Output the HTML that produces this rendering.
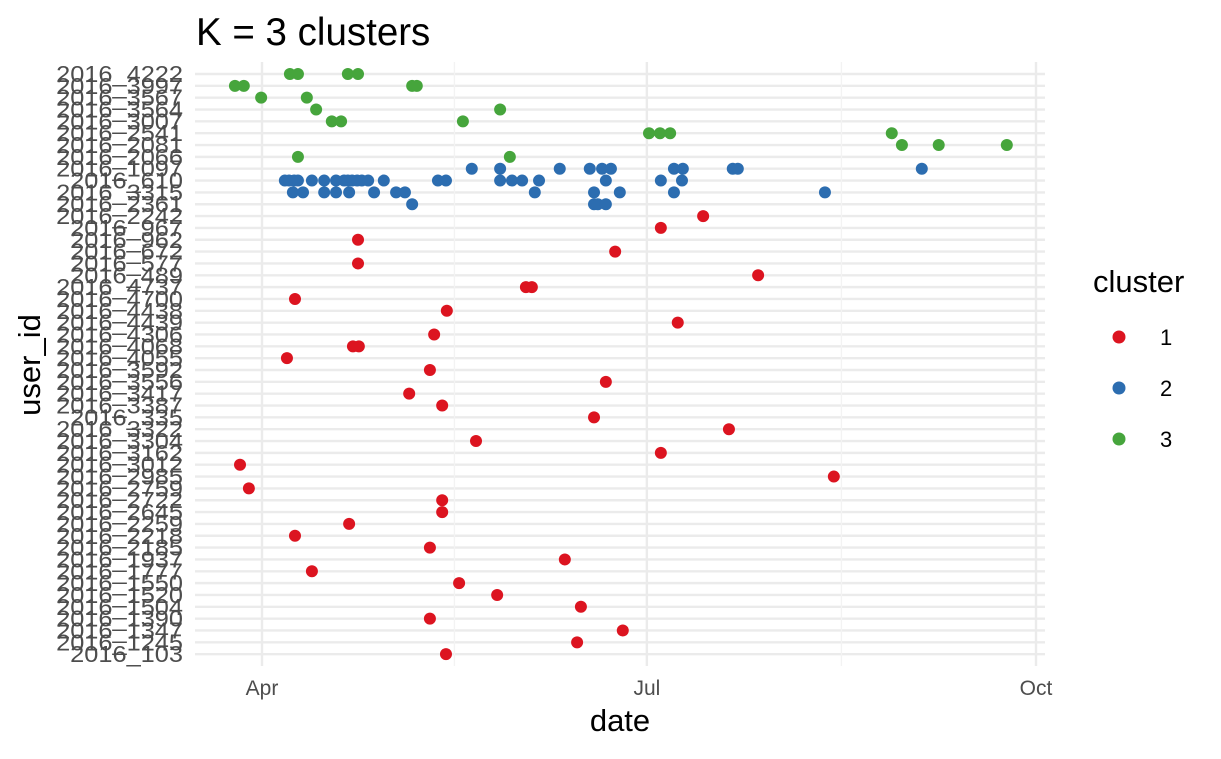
<!DOCTYPE html>
<html><head><meta charset="utf-8"><style>
body{margin:0;background:#fff;}
svg text{font-family:"Liberation Sans",Arial,sans-serif;}
</style></head><body>
<svg id="chart" width="1221" height="754" xmlns="http://www.w3.org/2000/svg">
<text x="196" y="45" font-size="38.5" fill="#000">K = 3 clusters</text>
<g id="grid"></g><g id="ylabels"></g><g id="xlabels"></g><g id="points"></g>
<text x="620" y="731" font-size="31" text-anchor="middle" fill="#000">date</text>
<text transform="translate(40,365) rotate(-90)" font-size="31" text-anchor="middle" fill="#000">user_id</text>
<g>
<text x="1093" y="292" font-size="31" fill="#000">cluster</text>
<g id="legend"></g>
</g>
</svg>
<script>
const userIds=["2016_4222","2016_3997","2016_3567","2016_3564","2016_3007","2016_2541","2016_2081","2016_2066","2016_1097","2016_610","2016_3315","2016_2361","2016_2242","2016_967","2016_962","2016_672","2016_577","2016_489","2016_4737","2016_4700","2016_4438","2016_4439","2016_4306","2016_4068","2016_4055","2016_3592","2016_3556","2016_3417","2016_3387","2016_335","2016_3322","2016_3304","2016_3162","2016_3012","2016_2985","2016_2759","2016_2722","2016_2645","2016_2259","2016_2218","2016_2185","2016_1937","2016_1777","2016_1550","2016_1520","2016_1504","2016_1390","2016_1347","2016_1245","2016_103"];
const rowCluster=[3,3,3,3,3,3,3,3,2,2,2,2,1,1,1,1,1,1,1,1,1,1,1,1,1,1,1,1,1,1,1,1,1,1,1,1,1,1,1,1,1,1,1,1,1,1,1,1,1,1];
// days since 2016-04-01
const rowDays=[
[6.6,8.5,20.3,22.7],[-6.4,-4.3,35.5,36.6],[-0.2,10.6],[12.8,56.3],[16.5,18.7,47.5],[91.5,94.1,96.5,148.9],[151.3,160.0,176.1],[8.5,58.6],
[49.6,56.3,70.4,77.5,80.4,82.5,97.4,99.5,111.3,112.5,156.0],
[5.4,6.4,7.6,8.5,11.8,14.7,17.5,19.4,20.3,21.3,22.5,23.6,25.1,28.8,41.6,43.5,56.3,59.1,61.5,65.5,81.3,94.3,99.3],
[7.3,9.7,14.7,17.5,20.6,26.5,31.7,33.8,64.5,78.5,84.6,97.4,133.1],
[35.5,78.5,79.4,81.3],
[104.3],[94.3],[22.7],[83.5],[22.7],[117.3],[62.4,63.8],[7.8],[43.7],[98.3],[40.7],[21.5,22.9],[5.9],[39.7],[81.3],[34.8],[42.6],[78.5],[110.4],[50.6],[94.3],[-5.2],[135.2],[-3.1],[42.6],[42.6],[20.6],[7.8],[39.7],[71.6],[11.8],[46.6],[55.6],[75.4],[39.7],[85.3],[74.5],[43.5]];
const xTickLabels=["Apr","Jul","Oct"];
const xTickDays=[0,91,183];
const xMinorDays=[45.5,137];
const clusterLabels=["1","2","3"];
const colors={1:"#DC1420",2:"#2C6DB0",3:"#46A53C"};
const NS="http://www.w3.org/2000/svg";
const xS=d=>262+d*(774/183);
const yS=i=>74+i*11.84;
function mk(t,a,p){const e=document.createElementNS(NS,t);for(const k in a)e.setAttribute(k,a[k]);p.appendChild(e);return e;}
const grid=document.getElementById('grid');
userIds.forEach((u,i)=>{const l=mk('line',{x1:195,x2:1045,y1:yS(i),y2:yS(i),stroke:'#ebebeb','stroke-width':2.4},grid);

});
xMinorDays.forEach(d=>{const l=mk('line',{x1:xS(d),x2:xS(d),y1:62,y2:666,stroke:'#f3f3f3','stroke-width':1.3},grid);

});
xTickDays.forEach(d=>{const l=mk('line',{x1:xS(d),x2:xS(d),y1:62,y2:666,stroke:'#ebebeb','stroke-width':2.4},grid);

});
const yl=document.getElementById('ylabels');
userIds.forEach((u,i)=>{const t=mk('text',{x:183,y:yS(i)+8,'font-size':23,'text-anchor':'end',fill:'#4d4d4d',textLength:(u.length*14.1).toFixed(1),lengthAdjust:'spacingAndGlyphs'},yl);t.textContent=u;

});
const xl=document.getElementById('xlabels');
xTickDays.forEach((d,i)=>{const t=mk('text',{x:xS(d),y:695,'font-size':21,'text-anchor':'middle',fill:'#4d4d4d'},xl);t.textContent=xTickLabels[i];

});
const pg=document.getElementById('points');
rowDays.forEach((days,i)=>days.forEach(d=>{const c=mk('circle',{cx:xS(d),cy:yS(i),r:6,fill:colors[rowCluster[i]]},pg);

}));
const lg=document.getElementById('legend');
clusterLabels.forEach((lab,i)=>{const y=337+i*51;
const c=mk('circle',{cx:1119,cy:y,r:6.5,fill:colors[i+1]},lg);


const t=mk('text',{x:1160,y:y+8,'font-size':22,fill:'#000'},lg);t.textContent=lab;

});
</script>
</body></html>
